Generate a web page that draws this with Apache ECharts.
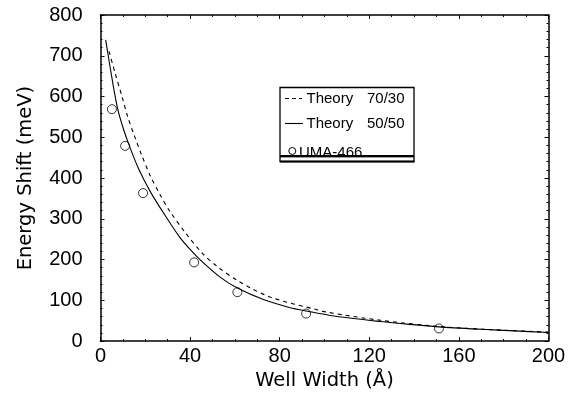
<!DOCTYPE html>
<html>
<head>
<meta charset="utf-8">
<script src="https://cdn.jsdelivr.net/npm/echarts@6/dist/echarts.min.js"></script>
<style>
  html, body { margin: 0; padding: 0; background: #fff; }
  #chart { width: 570px; height: 396px; }
</style>
</head>
<body>
<div id="chart"></div>
<script>
// theory curves as [well width (Å), shift (meV)]
const theory5050 = [
  [2.3, 739], [5.7, 626], [7.7, 569], [10.2, 521], [12.9, 479], [16.9, 424],
  [22.6, 363], [29.6, 302], [35.5, 254], [40, 225], [44.4, 200], [53.4, 157],
  [61.1, 130], [72.7, 102], [84.7, 82], [91.8, 74], [102.5, 63], [125, 48],
  [138, 41], [151, 35], [170, 29], [185, 25], [200, 21]
];
const theory7030 = [
  [3.8, 711], [6.5, 658], [9.5, 602], [12, 553], [15.1, 504], [18.4, 456],
  [22.1, 407], [26.6, 359], [31, 318], [38, 265], [45.2, 217], [51.9, 184],
  [61.6, 147], [75.7, 108], [96.6, 77], [101, 71], [125, 51], [151, 36],
  [175, 28], [200, 22]
];
// measured points (UMA-466)
const uma466 = [
  [5.1, 569], [11, 479], [19, 363], [41.8, 193], [61.1, 120], [91.8, 67.5], [151.1, 31]
];
const legendNames = ['Theory', 'UMA-466'];
const legendRatios = ['70/30', '50/50'];

const chart = echarts.init(document.getElementById('chart'), null, { renderer: 'canvas' });

const tickFont = 'Liberation Sans';
const nameFont = 'DejaVu Sans';

function frameAxis(extra) {
  return Object.assign({
    type: 'value',
    axisLine: { show: true, onZero: false, lineStyle: { color: '#000', width: 1.5 } },
    axisTick: { show: true, inside: true, length: 4, lineStyle: { color: '#000', width: 1 } },
    minorTick: { show: true, length: 2, lineStyle: { color: '#000', width: 1 } },
    splitLine: { show: false },
    minorSplitLine: { show: false },
  }, extra);
}

const labelStyle = { show: true, color: '#000', fontSize: 20, fontFamily: tickFont };

const option = {
  animation: false,
  backgroundColor: '#fff',
  grid: { left: 100.5, right: 21.5, top: 15, bottom: 51.5, containLabel: false },
  xAxis: [
    frameAxis({
      position: 'bottom', min: 0, max: 200, interval: 40,
      minorTick: { show: true, splitNumber: 4, length: 2, lineStyle: { color: '#000' } },
      axisLabel: Object.assign({ margin: 5 }, labelStyle),
      name: 'Well Width (Å)', nameLocation: 'middle', nameGap: 23,
      nameTextStyle: { color: '#000', fontSize: 19.5, fontFamily: nameFont }
    }),
    frameAxis({
      position: 'top', min: 0, max: 200, interval: 40,
      minorTick: { show: true, splitNumber: 4, length: 2, lineStyle: { color: '#000' } },
      axisLabel: { show: false }
    })
  ],
  yAxis: [
    frameAxis({
      position: 'left', min: 0, max: 800, interval: 100,
      minorTick: { show: true, splitNumber: 5, length: 2, lineStyle: { color: '#000' } },
      axisLabel: Object.assign({ margin: 18 }, labelStyle),
      name: 'Energy Shift (meV)', nameLocation: 'middle', nameGap: 65, nameRotate: 90,
      nameTextStyle: { color: '#000', fontSize: 19.5, fontFamily: nameFont }
    }),
    frameAxis({
      position: 'right', min: 0, max: 800, interval: 100,
      minorTick: { show: true, splitNumber: 5, length: 2, lineStyle: { color: '#000' } },
      axisLabel: { show: false }
    })
  ],
  series: [
    {
      name: legendNames[0] + ' ' + legendRatios[0],
      type: 'line', data: theory7030, smooth: 0.3, symbol: 'none',
      lineStyle: { color: '#000', width: 1.1, type: [4, 4] }
    },
    {
      name: legendNames[0] + ' ' + legendRatios[1],
      type: 'line', data: theory5050, smooth: 0.3, symbol: 'none',
      lineStyle: { color: '#000', width: 1.1 }
    },
    {
      name: legendNames[1],
      type: 'scatter', data: uma466, symbol: 'circle', symbolSize: 9,
      itemStyle: { color: '#fff', borderColor: '#000', borderWidth: 1 }
    }
  ],
  // boxed legend as in the original figure
  graphic: [
    { type: 'rect', shape: { x: 280, y: 87.5, width: 134, height: 74 },
      style: { fill: '#fff', stroke: '#000', lineWidth: 1.3 }, z: 10 },
    { type: 'line', shape: { x1: 285, y1: 98.5, x2: 302, y2: 98.5 },
      style: { stroke: '#000', lineWidth: 1.2, lineDash: [4, 3] }, z: 11 },
    { type: 'text', style: { x: 306.5, y: 98.5, text: legendNames[0], fill: '#000',
      font: '15px "Liberation Sans"', verticalAlign: 'middle' }, z: 11 },
    { type: 'text', style: { x: 367, y: 98.5, text: legendRatios[0], fill: '#000',
      font: '15px "Liberation Sans"', verticalAlign: 'middle' }, z: 11 },
    { type: 'line', shape: { x1: 285, y1: 123.5, x2: 303, y2: 123.5 },
      style: { stroke: '#000', lineWidth: 1.1 }, z: 11 },
    { type: 'text', style: { x: 306.5, y: 123.5, text: legendNames[0], fill: '#000',
      font: '15px "Liberation Sans"', verticalAlign: 'middle' }, z: 11 },
    { type: 'text', style: { x: 367, y: 123.5, text: legendRatios[1], fill: '#000',
      font: '15px "Liberation Sans"', verticalAlign: 'middle' }, z: 11 },
    { type: 'circle', shape: { cx: 292.3, cy: 151, r: 3.5 },
      style: { fill: '#fff', stroke: '#000', lineWidth: 1 }, z: 11 },
    { type: 'text', style: { x: 299, y: 152.5, text: legendNames[1], fill: '#000',
      font: '15px "Liberation Sans"', verticalAlign: 'middle' }, z: 11 },
    { type: 'line', shape: { x1: 280, y1: 156.3, x2: 414, y2: 156.3 },
      style: { stroke: '#000', lineWidth: 2.6 }, z: 12 },
    { type: 'rect', shape: { x: 281, y: 157.8, width: 132, height: 2.6 },
      style: { fill: '#fff' }, z: 12 },
    { type: 'line', shape: { x1: 280, y1: 161.5, x2: 414.5, y2: 161.5 },
      style: { stroke: '#000', lineWidth: 2 }, z: 12 }
  ]
};

chart.setOption(option);
</script>
</body>
</html>
